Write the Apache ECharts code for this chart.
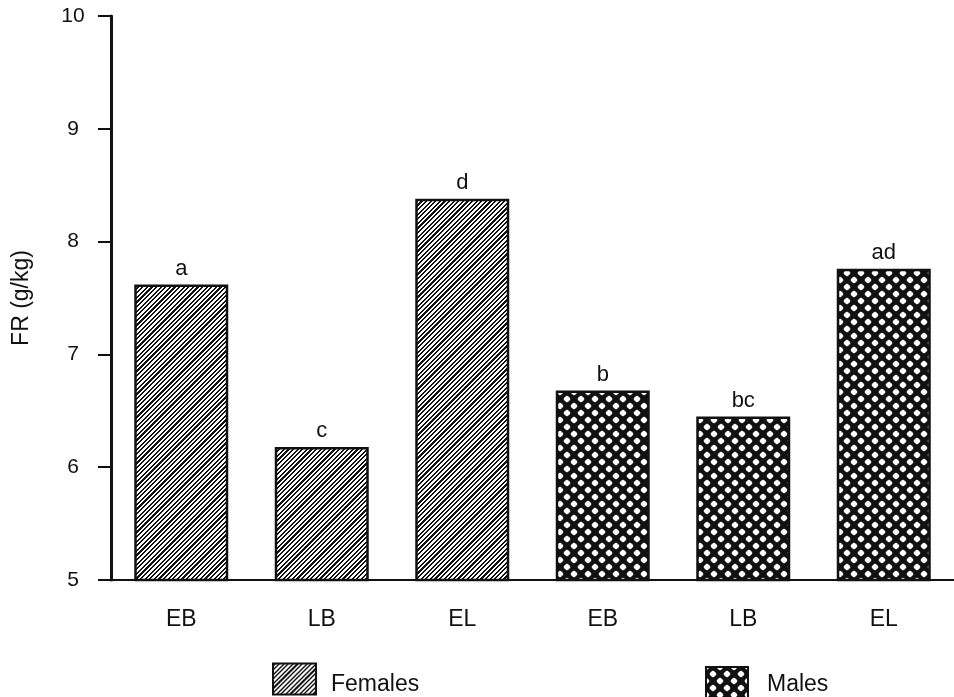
<!DOCTYPE html>
<html>
<head>
<meta charset="utf-8">
<script src="https://cdn.jsdelivr.net/npm/echarts@6/dist/echarts.min.js"></script>
<style>
  html, body { margin: 0; padding: 0; background: #ffffff; }
  #chart { width: 954px; height: 697px; }
</style>
</head>
<body>
<div id="chart"></div>
<script>
// ---- data ----
const categories = ['EB', 'LB', 'EL', 'EB', 'LB', 'EL'];
const femalesValues = [7.62, 6.18, 8.38];
const malesValues = [6.68, 6.45, 7.76];
const femalesLetters = ['a', 'c', 'd'];
const malesLetters = ['b', 'bc', 'ad'];
const yMin = 5, yMax = 10, yStep = 1;
const yAxisName = 'FR (g/kg)';
const seriesNames = ['Females', 'Males'];

// ---- patterns (pixel exact, seamless) ----
function hatchPattern() {
  const T = 23, P = 4.6, W = 2.1;
  const c = document.createElement('canvas');
  c.width = T; c.height = T;
  const g = c.getContext('2d');
  const img = g.createImageData(T, T);
  for (let y = 0; y < T; y++) {
    for (let x = 0; x < T; x++) {
      const v = ((x + y) % P + P) % P;
      const col = v < W ? 17 : 255;
      const i = (y * T + x) * 4;
      img.data[i] = col; img.data[i + 1] = col; img.data[i + 2] = col; img.data[i + 3] = 255;
    }
  }
  g.putImageData(img, 0, 0);
  return c;
}
function crossPattern() {
  const p = 14;
  const c = document.createElement('canvas');
  c.width = p; c.height = p;
  const g = c.getContext('2d');
  g.fillStyle = '#111111'; g.fillRect(0, 0, p, p);
  g.fillStyle = '#ffffff';
  const pts = [[0, 0], [p, 0], [0, p], [p, p], [p / 2, p / 2]];
  pts.forEach(([x, y]) => {
    const h = 3.6;
    g.beginPath();
    g.moveTo(x - h, y); g.lineTo(x, y - h); g.lineTo(x + h, y); g.lineTo(x, y + h);
    g.closePath(); g.fill();
    g.beginPath(); g.arc(x, y, 2.8, 0, Math.PI * 2); g.fill();
  });
  return c;
}

const FONT = '"Liberation Sans", Arial, Helvetica, sans-serif';
const INK = '#111111';

const femalesData = femalesValues.concat(malesValues.map(() => '-'));
const malesData = femalesValues.map(() => '-').concat(malesValues);
const letters = femalesLetters.concat(malesLetters);

const chart = echarts.init(document.getElementById('chart'), null, { renderer: 'canvas' });
chart.setOption({
  animation: false,
  backgroundColor: '#ffffff',
  grid: { left: 111, right: -9, top: 16, bottom: 117 },
  legend: [
    {
      data: [seriesNames[0]], left: 272, top: 662, icon: 'rect', padding: 0,
      itemWidth: 43, itemHeight: 31, selectedMode: false,
      itemStyle: { borderColor: INK, borderWidth: 2 },
      formatter: '\n{name}',
      textStyle: { fontSize: 23, lineHeight: 11, color: INK, fontFamily: FONT, padding: [0, 0, 0, 10] }
    },
    {
      data: [seriesNames[1]], left: 705, top: 666, icon: 'rect', padding: 0,
      itemWidth: 42, itemHeight: 31, selectedMode: false,
      itemStyle: { borderColor: INK, borderWidth: 2 },
      formatter: '\n{name}',
      textStyle: { fontSize: 23, lineHeight: 4, color: INK, fontFamily: FONT, padding: [0, 0, 0, 14] }
    }
  ],
  xAxis: {
    type: 'category',
    data: categories,
    axisLine: { lineStyle: { color: INK, width: 2 } },
    axisTick: { alignWithLabel: true, length: 11, lineStyle: { color: INK, width: 1.5 } },
    axisLabel: { fontSize: 23, color: INK, fontFamily: FONT, margin: 28 },
    splitLine: { show: false }
  },
  yAxis: {
    type: 'value',
    min: yMin, max: yMax, interval: yStep,
    name: yAxisName,
    nameLocation: 'middle',
    nameGap: 78,
    nameTextStyle: { fontSize: 23, color: INK, fontFamily: FONT },
    axisLine: { show: true, lineStyle: { color: INK, width: 3 } },
    axisTick: { show: true, length: 13, lineStyle: { color: INK, width: 2 } },
    axisLabel: { fontSize: 21, color: INK, fontFamily: FONT, align: 'center', margin: 38 },
    splitLine: { show: false }
  },
  series: [
    {
      name: seriesNames[0], type: 'bar', data: femalesData,
      barWidth: 94, barGap: '-100%',
      itemStyle: { color: { image: hatchPattern(), repeat: 'repeat' }, borderColor: INK, borderWidth: 2.5 },
      label: {
        show: true, position: 'top', distance: 5,
        fontSize: 22, color: INK, fontFamily: FONT,
        formatter: (p) => letters[p.dataIndex]
      }
    },
    {
      name: seriesNames[1], type: 'bar', data: malesData,
      barWidth: 94, barGap: '-100%',
      itemStyle: { color: { image: crossPattern(), repeat: 'repeat' }, borderColor: INK, borderWidth: 2.5 },
      label: {
        show: true, position: 'top', distance: 5,
        fontSize: 22, color: INK, fontFamily: FONT,
        formatter: (p) => letters[p.dataIndex]
      }
    }
  ]
});
</script>
</body>
</html>
